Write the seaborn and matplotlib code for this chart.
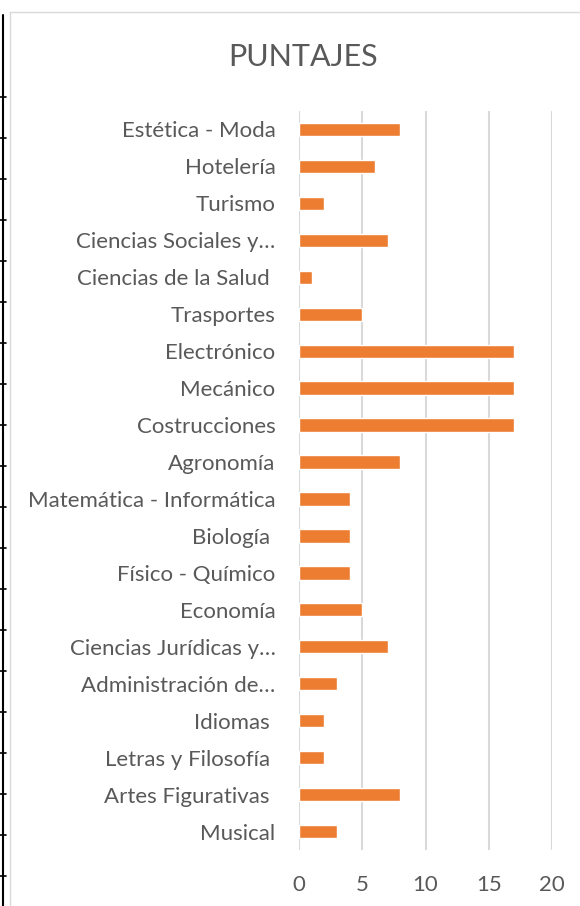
import matplotlib
matplotlib.use('Agg')
import matplotlib.pyplot as plt
import seaborn as sns
import pandas as pd
from matplotlib.lines import Line2D

sns.set_style("white")
plt.rcParams['font.family'] = ['Lato', 'DejaVu Sans']

# Data (top to bottom as shown)
categorias = [
    'Estética - Moda', 'Hotelería', 'Turismo', 'Ciencias Sociales y…',
    'Ciencias de la Salud ', 'Trasportes', 'Electrónico', 'Mecánico',
    'Costrucciones', 'Agronomía', 'Matemática - Informática', 'Biología ',
    'Físico - Químico', 'Economía', 'Ciencias Jurídicas y…',
    'Administración de…', 'Idiomas ', 'Letras y Filosofía ',
    'Artes Figurativas ', 'Musical',
]
puntajes = [8, 6, 2, 7, 1, 5, 17, 17, 17, 8, 4, 4, 4, 5, 7, 3, 2, 2, 8, 3]

df = pd.DataFrame({'Carrera': categorias, 'Puntaje': puntajes})

text_color = '#595959'
grid_color = '#d9d9d9'
bar_color = '#ED7D31'

fig = plt.figure(figsize=(5.8, 9.06), dpi=100)
ax = fig.add_axes([299 / 580, 1 - 850 / 906, 253 / 580, 739 / 906])

sns.barplot(data=df, y='Carrera', x='Puntaje', color=bar_color, width=0.36,
            saturation=1, ax=ax, zorder=3)

ax.set_xlim(0, 20)
ax.set_xticks([0, 5, 10, 15, 20])
ax.set_xlabel('')
ax.set_ylabel('')
ax.xaxis.grid(True, color=grid_color, linewidth=1.5, zorder=0)
ax.set_axisbelow(True)
for s in ax.spines.values():
    s.set_visible(False)
ax.tick_params(axis='x', length=0, pad=18, labelsize=16, labelcolor=text_color)
ax.tick_params(axis='y', length=0, pad=17, labelsize=16, labelcolor=text_color)

# Title
fig.text(303 / 580, 1 - 57 / 906, 'PUNTAJES', ha='center', va='center',
         fontsize=22, color=text_color)

# Chart area border
fig.add_artist(Line2D([10 / 580, 10 / 580], [0, 1 - 12 / 906],
                      transform=fig.transFigure, color='#d9d9d9', linewidth=1))
fig.add_artist(Line2D([10 / 580, 1], [1 - 12 / 906, 1 - 12 / 906],
                      transform=fig.transFigure, color='#d9d9d9', linewidth=1))

# Spreadsheet cell edge on the far left
fig.add_artist(Line2D([2.5 / 580, 2.5 / 580], [0, 1 - 15 / 906],
                      transform=fig.transFigure, color='black', linewidth=1.5))
for yp in range(97, 906, 41):
    fig.add_artist(Line2D([0, 6 / 580], [1 - yp / 906, 1 - yp / 906],
                          transform=fig.transFigure, color='black', linewidth=1.2))

fig.savefig('out.png', dpi=100)
